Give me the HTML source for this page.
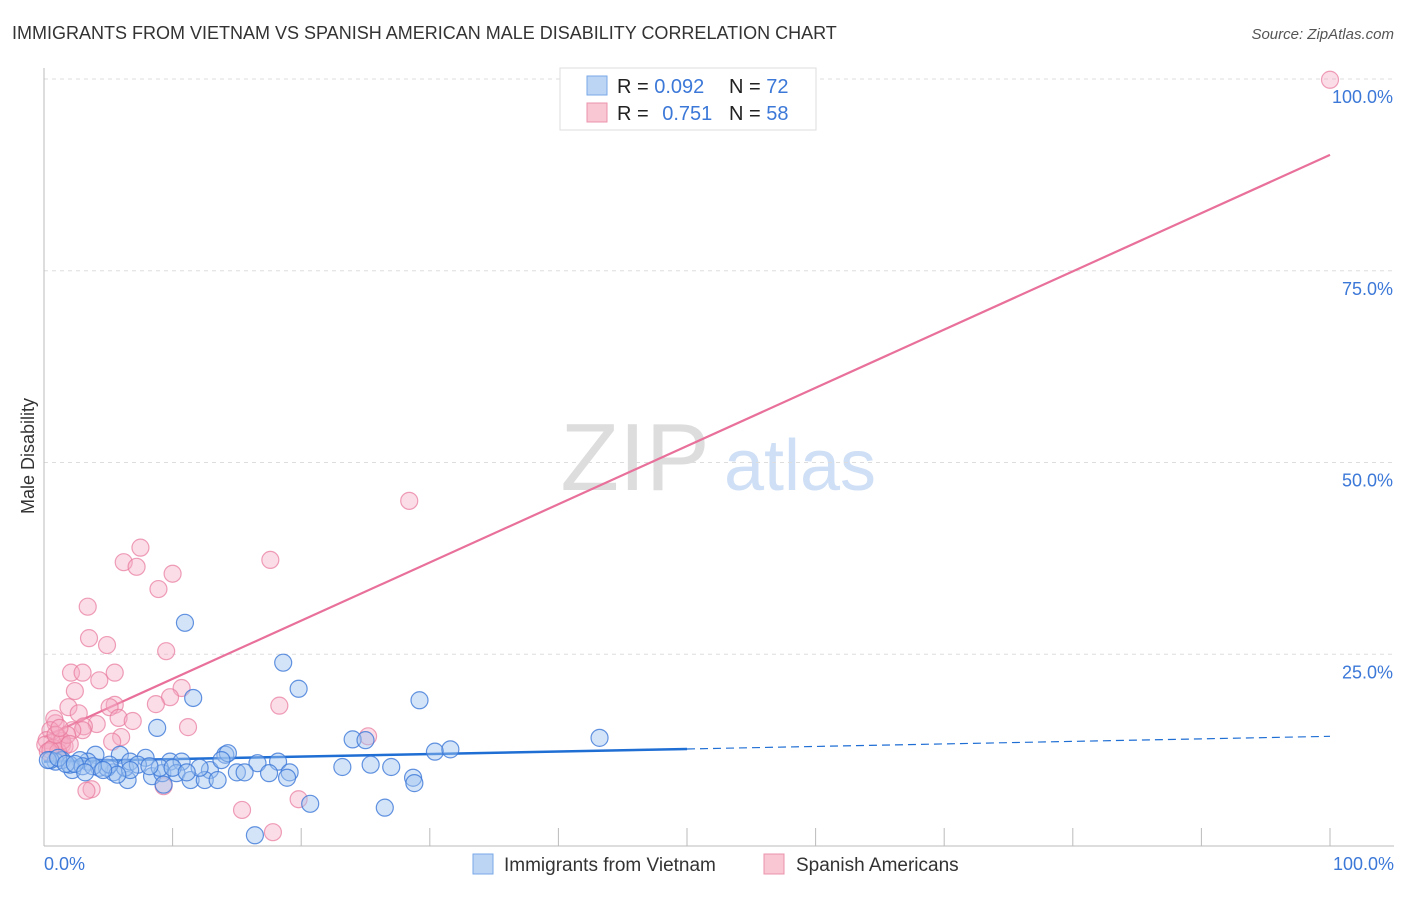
<!DOCTYPE html>
<html><head><meta charset="utf-8"><style>
body{margin:0;background:#fff;font-family:"Liberation Sans",sans-serif;}
svg text{font-family:"Liberation Sans",sans-serif;}
</style></head><body>
<svg id="chart" width="1406" height="892" viewBox="0 0 1406 892" xmlns="http://www.w3.org/2000/svg">
<text x="12" y="39" font-size="18" fill="#333">IMMIGRANTS FROM VIETNAM VS SPANISH AMERICAN MALE DISABILITY CORRELATION CHART</text>
<text x="1394" y="39" font-size="15" fill="#555" font-style="italic" text-anchor="end">Source: ZipAtlas.com</text>
<g>
<text x="635" y="490" font-size="96" fill="#ddd" text-anchor="middle" font-family="Liberation Serif">ZIP</text>
<text x="800" y="490" font-size="72" fill="#cfdff5" text-anchor="middle">atlas</text>
</g>
<g id="grid"></g><g id="axes"></g><g id="lines"></g><g id="points"></g>
<text transform="translate(34,456) rotate(-90)" font-size="18" fill="#333" text-anchor="middle">Male Disability</text>
<g>
<rect x="560" y="68" width="256" height="62" fill="#fff" stroke="#ddd"/>
<rect x="587" y="76" width="20" height="19" fill="#bcd5f5" stroke="#7aa8e8"/>
<rect x="587" y="103" width="20" height="19" fill="#f9c6d4" stroke="#ec93ad"/>
<text x="617" y="93" font-size="20" fill="#222">R = <tspan fill="#3c78d8">0.092</tspan></text>
<text x="729" y="93" font-size="20" fill="#222">N = <tspan fill="#3c78d8">72</tspan></text>
<text x="617" y="120" font-size="20" fill="#222">R = <tspan fill="#3c78d8" dx="8">0.751</tspan></text>
<text x="729" y="120" font-size="20" fill="#222">N = <tspan fill="#3c78d8">58</tspan></text>
</g>
<g>
<rect x="473" y="854" width="20" height="20" fill="#bcd5f5" stroke="#7aa8e8"/>
<text x="504" y="871" font-size="19" fill="#333">Immigrants from Vietnam</text>
<rect x="764" y="854" width="20" height="20" fill="#f9c6d4" stroke="#ec93ad"/>
<text x="796" y="871" font-size="19" fill="#333">Spanish Americans</text>
</g>
</svg>
<script>
const yTicks=[25,50,75,100];
const yTickLabels=["25.0%","50.0%","75.0%","100.0%"];
const xLabels=["0.0%","100.0%"];
const blueX=[10.96,18.6,19.8,11.6,29.2,8.8,43.2,24.0,25.0,30.4,31.6,14.1,14.3,4.0,5.9,7.9,9.8,10.7,12.9,15.0,16.6,18.2,19.1,18.9,17.5,23.2,25.4,27.0,28.7,28.8,26.5,20.7,16.4,6.5,8.4,9.2,10.3,11.4,12.5,13.5,5.4,4.3,4.9,3.4,2.8,2.2,1.4,0.9,0.5,0.3,2.0,3.0,3.8,6.3,6.7,7.3,9.0,10.0,12.1,5.1,6.7,5.7,1.1,1.7,2.4,3.2,4.6,8.2,11.1,13.8,15.6,9.3];
const blueY=[29.1,23.9,20.5,19.3,19.0,15.4,14.1,13.9,13.8,12.3,12.6,11.9,12.1,11.9,11.9,11.5,11.0,11.0,9.9,9.6,10.8,11.0,9.6,8.9,9.5,10.3,10.6,10.3,8.9,8.2,5.0,5.5,1.4,8.6,9.1,9.5,9.5,8.6,8.6,8.6,9.6,10.2,10.2,11.0,11.2,9.9,11.2,11.0,11.2,11.2,10.6,10.4,10.4,10.2,11.0,10.6,10.2,10.2,10.2,10.6,9.9,9.3,11.5,10.7,10.7,9.6,9.9,10.4,9.6,11.2,9.6,8.0];
const pinkX=[100,28.4,7.5,6.2,7.2,10.0,8.9,17.6,3.4,9.5,3.5,4.9,2.1,3.0,5.5,4.3,2.4,10.7,9.8,8.7,18.3,5.5,5.1,1.9,2.7,5.8,6.9,11.2,4.1,3.1,3.0,2.2,0.9,0.8,6.0,5.3,1.2,1.4,1.6,0.5,0.2,0.1,0.3,0.7,1.1,1.4,25.2,9.3,3.7,3.3,15.4,19.8,17.8,1.8,0.5,0.9,1.2,2.0];
const pinkY=[99.9,45.0,38.9,37.0,36.4,35.5,33.5,37.3,31.2,25.4,27.1,26.2,22.6,22.6,22.6,21.6,20.2,20.6,19.4,18.5,18.3,18.4,18.1,18.1,17.3,16.7,16.3,15.5,15.9,15.6,15.1,15.1,16.0,16.6,14.2,13.6,14.0,13.2,13.0,15.1,13.8,13.2,12.3,12.8,12.3,13.7,14.3,7.8,7.4,7.2,4.7,6.1,1.8,14.5,12.5,14.5,15.4,13.3];
const blueTrend=[11.0,14.3]; // y at x=0, x=100
const blueSolidEnd=[50];
const pinkTrend=[14.2,90.1];
const NS="http://www.w3.org/2000/svg";
const X=v=>44+v*12.86, Y=v=>846-v*7.67;
function mk(tag,attrs,parent){const e=document.createElementNS(NS,tag);for(const k in attrs)e.setAttribute(k,attrs[k]);parent.appendChild(e);return e;}
const grid=document.getElementById('grid'),axes=document.getElementById('axes'),lines=document.getElementById('lines'),pts=document.getElementById('points');
yTicks.forEach((t,i)=>{
 const l=mk('line',{x1:44,x2:1394,y1:Y(t),y2:Y(t),stroke:'#ddd','stroke-dasharray':'4,4'},grid);
 
 
 const tx=mk('text',{x:1393,y:Y(t)+24,'font-size':18,fill:'#3c78d8','text-anchor':'end'},axes);
 tx.textContent=yTickLabels[i];
 
 
});
const xa=mk('line',{x1:44,x2:1394,y1:846,y2:846,stroke:'#bbb'},axes);


const ya=mk('line',{x1:44,x2:44,y1:68,y2:846,stroke:'#bbb'},axes);


for(let i=1;i<=10;i++){const t=mk('line',{x1:X(i*10),x2:X(i*10),y1:828,y2:846,stroke:'#bbb'},axes);
 
 }
[[0,'start',44],[100,'end',1394]].forEach((a,i)=>{const t=mk('text',{x:a[2],y:870,'font-size':18,fill:'#3c78d8','text-anchor':a[1]},axes);t.textContent=xLabels[i];
 
 });
const by=x=>blueTrend[0]+(blueTrend[1]-blueTrend[0])*x/100;
const py=x=>pinkTrend[0]+(pinkTrend[1]-pinkTrend[0])*x/100;
function dots(xs,ys,fill,stroke,name){xs.forEach((x,i)=>{const c=mk('circle',{cx:X(x),cy:Y(ys[i]),r:8.5,fill:fill,stroke:stroke,'stroke-width':1.2},pts);
 
 });}
dots(pinkX,pinkY,'rgba(246,170,194,0.4)','rgba(232,120,155,0.7)','spanish-american-point');
dots(blueX,blueY,'rgba(160,195,240,0.45)','rgba(60,120,216,0.8)','vietnam-point');
const b1=mk('line',{x1:X(0),y1:Y(by(0)),x2:X(blueSolidEnd[0]),y2:Y(by(blueSolidEnd[0])),stroke:'#1f6ed4','stroke-width':2.5},lines);


const b2=mk('line',{x1:X(blueSolidEnd[0]),y1:Y(by(blueSolidEnd[0])),x2:X(100),y2:Y(by(100)),stroke:'#1f6ed4','stroke-width':1.2,'stroke-dasharray':'8,5'},lines);


const p1=mk('line',{x1:X(0),y1:Y(py(0)),x2:X(100),y2:Y(py(100)),stroke:'#e8709a','stroke-width':2.2},lines);


</script>
</body></html>
